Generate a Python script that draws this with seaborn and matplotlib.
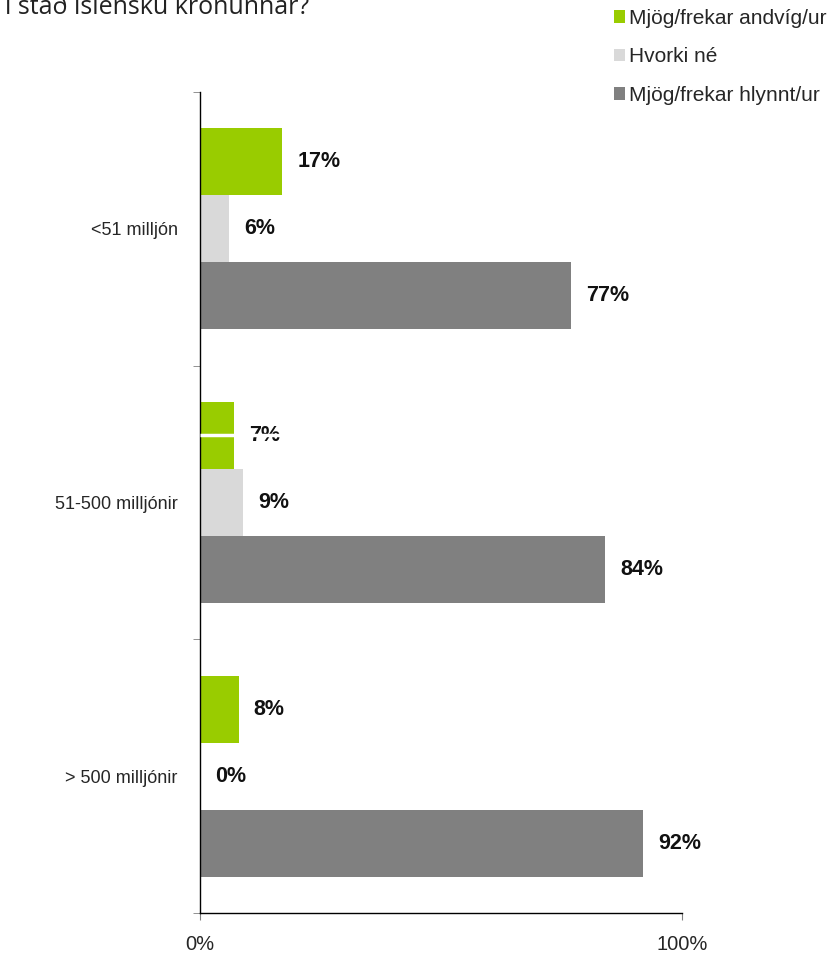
import pandas as pd
import numpy as np
import seaborn as sns
import matplotlib.pyplot as plt

# data
groups = ["<51 milljón", "51-500 milljónir", "> 500 milljónir"]
answers = ["Mjög/frekar andvíg/ur", "Hvorki né", "Mjög/frekar hlynnt/ur"]
andvig = [17, 7, 8]
hvorki = [6, 9, 0]
hlynnt = [77, 84, 92]
colors = ["#99CC00", "#D9D9D9", "#808080"]
x_ticks = [0, 100]
x_ticklabels = ["0%", "100%"]

rows = []
for ans, vals in zip(answers, [andvig, hvorki, hlynnt]):
    for g, v in zip(groups, vals):
        rows.append({"hopur": g, "svar": ans, "hlutfall": v})
df = pd.DataFrame(rows)

sns.set_style("white")
plt.rcParams['font.family'] = ['Liberation Sans', 'DejaVu Sans']

fig = plt.figure(figsize=(8.32, 9.55), dpi=100)
ax = fig.add_axes([200/832, 1 - 913/955, 482/832, (913 - 92)/955])

sns.barplot(data=df, y="hopur", x="hlutfall", hue="svar", orient="h",
            palette=colors, width=0.735, saturation=1, linewidth=0, ax=ax)

# value labels
for cont, vals in zip(ax.containers, [andvig, hvorki, hlynnt]):
    ax.bar_label(cont, labels=[f"{v}%" for v in vals], padding=11,
                 fontsize=15.5, fontweight="bold", color="#111111")

# the thin white glitch through the 7% bar in the original
p = ax.containers[0][1]
yc = p.get_y() + p.get_height() / 2
ax.plot([0, 20], [yc, yc], color="white", lw=2.5, zorder=10, solid_capstyle="butt")

ax.set_xlim(0, 100)
ax.set_ylim(2.5, -0.5)
ax.set_xticks(x_ticks)
ax.set_xticklabels(x_ticklabels, fontsize=14.5)
ax.set_yticks(range(len(groups)))
ax.set_yticklabels(groups, fontsize=13)
ax.set_yticks([-0.5, 0.5, 1.5, 2.5], minor=True)
ax.tick_params(axis="y", which="major", length=0, pad=16)
ax.tick_params(axis="y", which="minor", length=5, color="#808080", direction="out", left=True)
ax.tick_params(axis="x", length=5, color="#808080", direction="out", bottom=True, pad=11)
ax.set_xlabel("")
ax.set_ylabel("")

sns.despine(ax=ax, top=True, right=True)
for s in ["left", "bottom"]:
    ax.spines[s].set_color("black")
    ax.spines[s].set_linewidth(1)

handles, labels = ax.get_legend_handles_labels()
ax.get_legend().remove()
fig.legend(handles, labels, loc="upper left", bbox_to_anchor=(614/832, 1 - 9/955),
           frameon=False, fontsize=15, handlelength=0.53, handleheight=0.53,
           handletextpad=0.2, labelspacing=0.93, borderaxespad=0, borderpad=0)

# cut-off question text at the top edge
fig.text(5/832, 1 - 14/955, "í stað íslensku krónunnar?", fontsize=18,
         family=["Open Sans", "DejaVu Sans"], color="#222222", va="baseline")

fig.savefig("out.png", dpi=100)
